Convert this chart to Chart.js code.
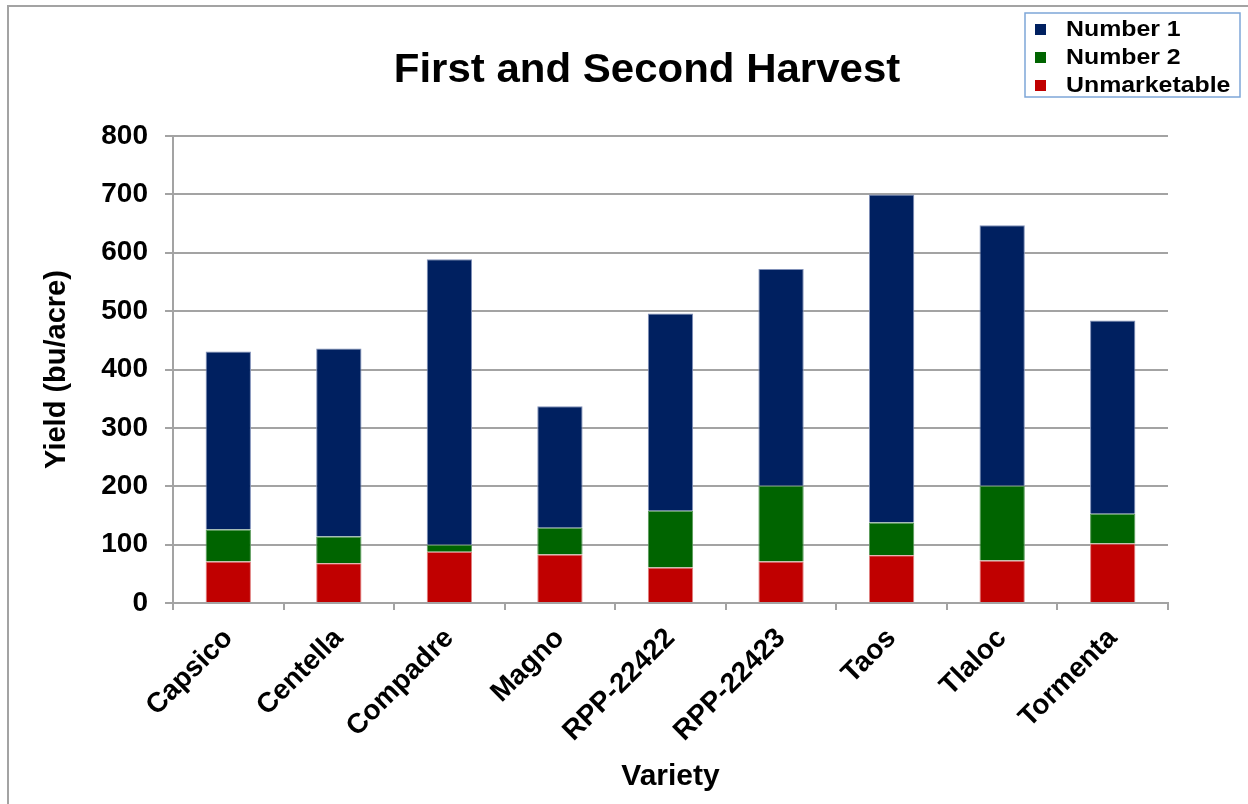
<!DOCTYPE html>
<html lang="en">
<head>
    <meta charset="UTF-8">
    <title>First and Second Harvest</title>
    <script src="https://cdn.jsdelivr.net/npm/chart.js"></script>
    <style>
body {
  margin: 0;
  background-color: #fff;
  font-family: 'Liberation Sans', Arial, sans-serif;
}

.frame {
  position: absolute;
  left: 7px;
  top: 5px;
  width: 1300px;
  height: 900px;
  border-left: 2px solid #a3a3a3;
  border-top: 2px solid #a3a3a3;
}

.chart-box {
  position: absolute;
  left: 0;
  top: 0;
  width: 1248px;
  height: 804px;
}
    </style>
</head>
<body>
    <div class="frame"></div>
    <div class="chart-box">
        <canvas id="harvestChart" width="1248" height="804"></canvas>
    </div>

    <script>
// Data (bu/acre)
const varieties = ['Capsico', 'Centella', 'Compadre', 'Magno', 'RPP-22422', 'RPP-22423', 'Taos', 'Tlaloc', 'Tormenta'];
const unmarketable = [71, 68, 88, 83, 61, 71, 82, 73, 102];
const number2 = [55, 46, 12, 46, 97, 130, 56, 128, 51];
const number1 = [305, 322, 489, 208, 338, 371, 562, 446, 331];

const gridGray = '#a3a3a3';
const fontFamily = "'Liberation Sans', Arial, sans-serif";

Chart.defaults.font.family = fontFamily;
Chart.defaults.color = '#000';

// text in the original is a bit wider than plain Arial, so stretch it sideways
function wideText(ctx, text, x, y, sx) {
    ctx.save();
    ctx.translate(x, y);
    ctx.scale(sx, 1);
    ctx.fillText(text, 0, 0);
    ctx.restore();
}

// title + legend box drawn by hand so they sit where the original has them
const titleAndLegend = {
    id: 'titleAndLegend',
    afterDraw(chart) {
        const ctx = chart.ctx;
        ctx.save();
        ctx.fillStyle = '#000';
        ctx.font = 'bold 40px ' + fontFamily;
        ctx.textAlign = 'center';
        ctx.textBaseline = 'middle';
        wideText(ctx, 'First and Second Harvest', 647, 71, 1.05);

        // legend
        ctx.strokeStyle = '#7ea6d8';
        ctx.lineWidth = 1.5;
        ctx.strokeRect(1025, 13, 215, 84);
        ctx.font = 'bold 22px ' + fontFamily;
        ctx.textAlign = 'left';
        const sets = chart.data.datasets.slice().reverse();
        sets.forEach((ds, i) => {
            const y = 29 + i * 28;
            ctx.fillStyle = ds.backgroundColor;
            ctx.fillRect(1035, y - 5, 11, 11);
            ctx.fillStyle = '#000';
            wideText(ctx, ds.label, 1066, y + 1, 1.13);
        });
        ctx.restore();
    }
};

const ctx = document.getElementById('harvestChart').getContext('2d');

const harvestChart = new Chart(ctx, {
    type: 'bar',
    data: {
        labels: varieties,
        datasets: [{
            label: 'Unmarketable',
            data: unmarketable,
            backgroundColor: '#c00000',
            borderColor: '#e08080',
            borderWidth: 1
        }, {
            label: 'Number 2',
            data: number2,
            backgroundColor: '#006400',
            borderColor: '#5a9a5a',
            borderWidth: 1
        }, {
            label: 'Number 1',
            data: number1,
            backgroundColor: '#002060',
            borderColor: '#8090b8',
            borderWidth: 1
        }]
    },
    options: {
        responsive: false,
        animation: false,
        layout: {
            padding: { top: 136, right: 80, left: 0, bottom: 0 }
        },
        barPercentage: 0.41,
        categoryPercentage: 1,
        plugins: {
            legend: { display: false },
            title: { display: false },
            tooltip: { enabled: false }
        },
        scales: {
            x: {
                stacked: true,
                grid: {
                    drawOnChartArea: false,
                    drawTicks: true,
                    tickLength: 7,
                    color: gridGray,
                    lineWidth: 2
                },
                border: { color: gridGray, width: 2 },
                ticks: {
                    font: { size: 28, weight: 'bold' },
                    color: '#000',
                    maxRotation: 45,
                    minRotation: 45,
                    padding: 12
                },
                title: {
                    display: true,
                    text: 'Variety',
                    font: { size: 30, weight: 'bold' },
                    color: '#000',
                    padding: { top: 0, bottom: 9 }
                },
                afterFit: (scale) => { scale.height = 201; }
            },
            y: {
                stacked: true,
                min: 0,
                max: 800,
                grid: {
                    color: gridGray,
                    lineWidth: 2,
                    tickLength: 8
                },
                border: { color: gridGray, width: 2 },
                ticks: {
                    stepSize: 100,
                    font: { size: 28, weight: 'bold' },
                    color: '#000',
                    padding: 17
                },
                title: {
                    display: true,
                    text: 'Yield (bu/acre)',
                    font: { size: 29, weight: 'bold' },
                    color: '#000',
                    padding: { top: 40, bottom: 0 }
                },
                afterFit: (scale) => { scale.width = 173; }
            }
        }
    },
    plugins: [titleAndLegend]
});
    </script>
</body>
</html>
